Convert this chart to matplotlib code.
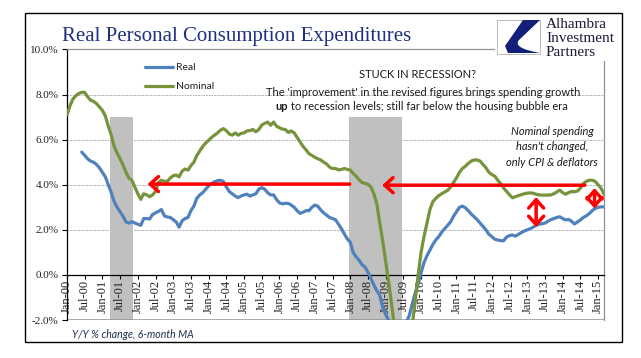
import matplotlib
matplotlib.use('Agg')
import matplotlib.pyplot as plt
from matplotlib.patches import Rectangle, PathPatch
from matplotlib.path import Path

W, H = 641, 358

# ---------------- data ----------------
tick_labels = ['Jan-00', 'Jul-00', 'Jan-01', 'Jul-01', 'Jan-02', 'Jul-02', 'Jan-03', 'Jul-03',
               'Jan-04', 'Jul-04', 'Jan-05', 'Jul-05', 'Jan-06', 'Jul-06', 'Jan-07', 'Jul-07',
               'Jan-08', 'Jul-08', 'Jan-09', 'Jul-09', 'Jan-10', 'Jul-10', 'Jan-11', 'Jul-11',
               'Jan-12', 'Jul-12', 'Jan-13', 'Jul-13', 'Jan-14', 'Jul-14', 'Jan-15']
tick_step = 6  # months between labels

# Nominal PCE, Y/Y % change, 6-month MA, monthly Jan-00 .. Mar-15
nominal = [
    7.10, 7.50, 7.80, 7.95, 8.05, 8.10, 8.10, 7.90, 7.75, 7.70, 7.60, 7.45,   # 2000
    7.30, 7.05, 6.60, 6.20, 5.70, 5.40, 5.15, 4.87, 4.55, 4.30, 4.20, 3.90,   # 2001
    3.60, 3.35, 3.60, 3.55, 3.47, 3.55, 3.70, 4.10, 4.20, 4.15, 4.15, 4.30,   # 2002
    4.40, 4.43, 4.35, 4.60, 4.70, 4.65, 4.85, 5.00, 5.30, 5.50, 5.70, 5.85,   # 2003
    5.97, 6.10, 6.20, 6.30, 6.42, 6.49, 6.40, 6.25, 6.20, 6.30, 6.20, 6.28,   # 2004
    6.30, 6.39, 6.40, 6.45, 6.35, 6.45, 6.65, 6.72, 6.78, 6.64, 6.78, 6.60,   # 2005
    6.53, 6.47, 6.45, 6.32, 6.39, 6.30, 6.10, 5.90, 5.70, 5.55, 5.38, 5.30,   # 2006
    5.22, 5.15, 5.10, 5.00, 4.92, 4.78, 4.72, 4.72, 4.66, 4.68, 4.72, 4.68,   # 2007
    4.65, 4.50, 4.38, 4.22, 4.10, 4.06, 4.02, 3.90, 3.60, 3.15, 2.30, 1.50,   # 2008
    0.60, -0.30, -1.30, -2.30, -3.20, -3.80, -4.00, -3.80, -3.00, -2.20, -1.20, 0.00,  # 2009
    1.00, 1.70, 2.30, 2.90, 3.25, 3.40, 3.52, 3.60, 3.68, 3.75, 3.90, 4.10,   # 2010
    4.30, 4.55, 4.72, 4.82, 4.95, 5.05, 5.10, 5.10, 5.05, 4.90, 4.75, 4.55,   # 2011
    4.45, 4.38, 4.20, 4.05, 3.85, 3.70, 3.55, 3.42, 3.47, 3.52, 3.56, 3.60,   # 2012
    3.63, 3.64, 3.62, 3.58, 3.55, 3.54, 3.54, 3.54, 3.55, 3.60, 3.68, 3.76,   # 2013
    3.65, 3.58, 3.65, 3.70, 3.69, 3.72, 3.85, 4.05, 4.15, 4.20, 4.20, 4.15,   # 2014
    4.00, 3.85, 3.58,                                                         # 2015
]

# Real PCE, Y/Y % change, 6-month MA, monthly Jun-00 .. Mar-15
real_start = 5
real = [
    5.45, 5.30, 5.15, 5.05, 5.00, 4.90, 4.75,                                 # 2000
    4.55, 4.35, 4.00, 3.65, 3.25, 3.00, 2.80, 2.60, 2.35, 2.30, 2.36, 2.30,   # 2001
    2.25, 2.20, 2.50, 2.50, 2.48, 2.68, 2.75, 2.82, 2.90, 2.62, 2.57, 2.55,   # 2002
    2.45, 2.35, 2.12, 2.40, 2.50, 2.55, 2.85, 3.05, 3.40, 3.55, 3.65, 3.80,   # 2003
    3.95, 4.05, 4.13, 4.18, 4.20, 4.15, 3.90, 3.70, 3.60, 3.50, 3.43, 3.50,   # 2004
    3.55, 3.58, 3.50, 3.55, 3.60, 3.80, 3.87, 3.80, 3.65, 3.55, 3.55, 3.35,   # 2005
    3.20, 3.15, 3.18, 3.17, 3.10, 3.00, 2.85, 2.73, 2.78, 2.85, 2.85, 3.00,   # 2006
    3.10, 3.05, 2.88, 2.75, 2.65, 2.55, 2.50, 2.45, 2.25, 2.05, 1.82, 1.60,   # 2007
    1.45, 1.00, 0.80, 0.65, 0.45, 0.35, 0.12, -0.15, -0.45, -0.70, -0.90, -1.45,  # 2008
    -1.75, -2.00, -2.30, -2.60, -2.80, -2.90, -2.70, -2.10, -1.80, -1.30, -0.80, -0.40,  # 2009
    0.10, 0.55, 0.85, 1.10, 1.35, 1.55, 1.70, 1.90, 2.05, 2.20, 2.35, 2.60,   # 2010
    2.80, 3.00, 3.05, 2.98, 2.85, 2.70, 2.58, 2.45, 2.30, 2.15, 2.00, 1.80,   # 2011
    1.70, 1.58, 1.55, 1.52, 1.52, 1.68, 1.75, 1.77, 1.72, 1.80, 1.88, 1.95,   # 2012
    2.00, 2.05, 2.12, 2.20, 2.25, 2.27, 2.30, 2.38, 2.45, 2.50, 2.55, 2.58,   # 2013
    2.50, 2.44, 2.46, 2.38, 2.26, 2.35, 2.44, 2.55, 2.62, 2.72, 2.85, 2.95,   # 2014
    3.00, 3.02, 3.02,                                                         # 2015
]

# recession months (index from Jan-00), shaded up to 7%
recession_months = [15, 16, 17, 18, 19, 20, 21, 22,
                    96, 97, 98, 99, 100, 101, 102, 103, 104, 105, 106, 107, 108,
                    109, 110, 111, 112, 113]
recession_top = 7.0
y_min, y_max = -2.0, 10.0
y_ticks = [-2, 0, 2, 4, 6, 8, 10]

# annotation arrows: (x_from, y_from, x_to, y_to), style
arrows = [
    (95.8, 4.03, 27.3, 4.03, '->'),
    (175.5, 3.98, 106.8, 3.98, '->'),
    (159.0, 2.12, 159.0, 3.45, '<->'),
    (178.8, 2.95, 178.8, 3.85, '<->'),
]

# ---------------- figure ----------------
fig = plt.figure(figsize=(W / 100, H / 100), dpi=100)
fig.patch.set_facecolor('white')


def fx(x):
    return x / W


def fy(y):
    return 1 - y / H


ax = fig.add_axes([fx(67), fy(320), (604 - 67) / W, (320 - 49.5) / H])
ax.set_facecolor('none')

months = list(range(len(nominal)))
real_months = list(range(real_start, real_start + len(real)))

ax.bar(recession_months, [recession_top - y_min] * len(recession_months), bottom=y_min,
       width=1.0, color='#c0c0c0', linewidth=0, zorder=1)

for yv in y_ticks[2:-1]:
    ax.axhline(yv, color='#a0a0a0', lw=0.6, ls=(0, (2, 1.2)), zorder=0.5)

l_real, = ax.plot(real_months, real, color='#4f81bd', lw=2.3, zorder=3,
                  solid_capstyle='round', solid_joinstyle='round', label='Real')
l_nom, = ax.plot(months, nominal, color='#77933c', lw=2.3, zorder=3,
                 solid_capstyle='round', solid_joinstyle='round', label='Nominal')

for x0, y0, x1, y1, st in arrows:
    ax.annotate('', xy=(x1, y1), xytext=(x0, y0),
                arrowprops=dict(arrowstyle=st + ',head_length=0.5,head_width=0.45',
                                color='#ff0000', lw=2.5, shrinkA=0, shrinkB=0,
                                mutation_scale=12),
                zorder=4)

ax.set_xlim(0, 182)
ax.set_ylim(y_min, y_max)

# spines
ax.spines['left'].set_color('black')
ax.spines['left'].set_linewidth(0.9)
ax.spines['bottom'].set_position(('data', 0))
ax.spines['bottom'].set_color('black')
ax.spines['bottom'].set_linewidth(0.9)
ax.spines['top'].set_color('#909090')
ax.spines['top'].set_linewidth(0.9)
ax.spines['right'].set_color('#909090')
ax.spines['right'].set_linewidth(0.9)
ax.axhline(y_min, color='#909090', lw=1.8, zorder=2)

ax.set_yticks(y_ticks)
ax.set_yticklabels(['%.1f%%' % v for v in y_ticks], family='Liberation Serif',
                   fontsize=8, color='#222222')
ax.tick_params(axis='y', direction='out', length=3.5, width=0.8, pad=2.5)

ax.set_xticks(list(range(0, len(tick_labels) * tick_step, tick_step)))
ax.set_xticklabels(tick_labels, rotation=90, family='Liberation Serif', fontsize=9,
                   color='#222222')
ax.tick_params(axis='x', direction='out', length=3, width=0.8, pad=0.5)

leg = ax.legend(handles=[l_real, l_nom], loc='upper left',
                bbox_to_anchor=(fx(145), fy(63)), bbox_transform=fig.transFigure,
                frameon=False, borderpad=0, borderaxespad=0, handlelength=2.7,
                handletextpad=0.3, labelspacing=0.95,
                prop={'family': 'Lato', 'size': 7.5})
for t in leg.get_texts():
    t.set_color('#222222')

# ---------------- texts ----------------
fig.text(fx(62), fy(36), 'Real Personal Consumption Expenditures', family='Liberation Serif',
         fontsize=15, color='#1f3080', ha='left', va='center')

txt_kw = dict(family='Lato', fontsize=8, color='#1a1a1a', va='center')
fig.text(fx(418), fy(75), 'STUCK IN RECESSION?', ha='center', **txt_kw)
fig.text(fx(423), fy(93), "The 'improvement' in the revised figures brings spending growth",
         ha='center', **txt_kw)
t_up = fig.text(fx(275), fy(107), 'up', ha='left', fontweight='bold', **txt_kw)
fig.canvas.draw()
bb = t_up.get_window_extent(renderer=fig.canvas.get_renderer())
fig.text(bb.x1 / W, fy(107), ' to recession levels; still far below the housing bubble era',
         ha='left', **txt_kw)

it_kw = dict(family='Lato', fontsize=8, style='italic', color='#1a1a1a', ha='center', va='center')
fig.text(fx(552), fy(132), 'Nominal spending', **it_kw)
fig.text(fx(552), fy(147), "hasn't changed,", **it_kw)
fig.text(fx(552), fy(162), 'only CPI & deflators', **it_kw)

fig.text(fx(72), fy(334), 'Y/Y % change, 6-month MA', family='Lato', fontsize=7.6,
         style='italic', color='#1f2f4f', ha='left', va='center')

# ---------------- frame & logo ----------------
fig.patches.append(Rectangle((fx(25), fy(342)), (622 - 25) / W, (342 - 13) / H,
                             transform=fig.transFigure, fill=False, edgecolor='black',
                             lw=1.0, zorder=6))
fig.patches.append(Rectangle((fx(495), fy(61)), (620.5 - 495) / W, (61 - 13.7) / H,
                             transform=fig.transFigure, facecolor='white',
                             edgecolor='none', zorder=5))
fig.patches.append(Rectangle((fx(497), fy(53.5)), (540 - 497) / W, (53.5 - 19.5) / H,
                             transform=fig.transFigure, facecolor='white',
                             edgecolor='#b0b0b0', lw=0.6, zorder=6))
logo_pts = [(523, 20), (540, 20), (519, 40), (512, 48), (540, 53), (508, 53), (505, 46), (523, 20)]
codes = [Path.MOVETO, Path.LINETO, Path.LINETO, Path.CURVE3, Path.CURVE3, Path.LINETO,
         Path.LINETO, Path.CLOSEPOLY]
logo_path = Path([(fx(x), fy(y)) for x, y in logo_pts], codes)
fig.patches.append(PathPatch(logo_path, transform=fig.transFigure, facecolor='#13207a',
                             edgecolor='none', zorder=7))
for yy, word in [(25, 'Alhambra'), (39, 'Investment'), (52, 'Partners')]:
    fig.text(fx(546), fy(yy), word, family='Liberation Serif', fontsize=11,
             color='#1a1a3a', ha='left', va='center', zorder=8)

fig.savefig('out.png', dpi=100)
